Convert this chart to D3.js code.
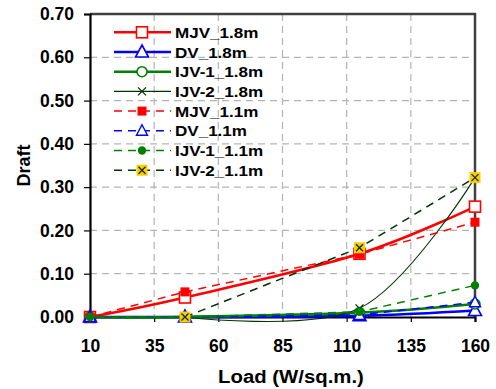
<!DOCTYPE html>
<html>
<head>
<meta charset="utf-8">
<script src="https://cdn.jsdelivr.net/npm/d3@7"></script>
<style>
  html, body { margin: 0; padding: 0; background: #fff; }
  svg { display: block; }
  text { font-family: "Liberation Sans", Arial, sans-serif; font-weight: bold; fill: #000; }
</style>
</head>
<body>
<svg id="chart" width="496" height="389"></svg>
<script>
// Load levels (W/sq.m.) and draft readings for each configuration
const loads = [10, 47, 115, 160];
const loadsIJV2 = [47, 115, 160];

const mjv18 = [0.000, 0.045, 0.146, 0.255];
const dv18 = [0.000, 0.000, 0.003, 0.015];
const ijv1_18 = [0.000, 0.000, 0.010, 0.030];
const ijv2_18 = [0.000, 0.020, 0.322];
const mjv11 = [0.000, 0.058, 0.145, 0.219];
const dv11 = [0.000, 0.000, 0.005, 0.034];
const ijv1_11 = [0.000, 0.000, 0.012, 0.073];
const ijv2_11 = [0.000, 0.160, 0.322];

const xTicks = [10, 35, 60, 85, 110, 135, 160];
const yTicks = [0, 0.1, 0.2, 0.3, 0.4, 0.5, 0.6, 0.7];

const seriesNames = ["MJV_1.8m", "DV_1.8m", "IJV-1_1.8m", "IJV-2_1.8m",
                     "MJV_1.1m", "DV_1.1m", "IJV-1_1.1m", "IJV-2_1.1m"];

const series = [
  { name: seriesNames[0], x: loads, y: mjv18, color: "#ff0000", width: 2.6, dash: null, smooth: true, marker: "openSquare" },
  { name: seriesNames[1], x: loads, y: dv18, color: "#0000ff", width: 2.6, dash: null, smooth: true, marker: "openTriangle" },
  { name: seriesNames[2], x: loads, y: ijv1_18, color: "#008000", width: 2.6, dash: null, smooth: true, marker: "openCircle" },
  { name: seriesNames[3], x: loadsIJV2, y: ijv2_18, color: "#003300", width: 1.1, dash: null, smooth: true, marker: "cross" },
  { name: seriesNames[4], x: loads, y: mjv11, color: "#ff0000", width: 1.5, dash: "8,6", smooth: false, marker: "fillSquare" },
  { name: seriesNames[5], x: loads, y: dv11, color: "#0000ff", width: 1.5, dash: "8,6", smooth: false, marker: "openTriangleSmall" },
  { name: seriesNames[6], x: loads, y: ijv1_11, color: "#008000", width: 1.5, dash: "8,6", smooth: false, marker: "fillCircle" },
  { name: seriesNames[7], x: loadsIJV2, y: ijv2_11, color: "#003300", width: 1.5, dash: "8,6", smooth: false, marker: "yellowCross" }
];

const svg = d3.select("#chart");
const plot = { left: 90, right: 475, top: 14, bottom: 317 };

const x = d3.scaleLinear().domain([10, 160]).range([plot.left, plot.right]);
const y = d3.scaleLinear().domain([0, 0.7]).range([plot.bottom, plot.top]);

// dashed grid
const grid = svg.append("g");
grid.selectAll("line.h").data(yTicks.filter(v => v > 0 && v < 0.7)).join("line")
  .attr("x1", plot.left).attr("x2", plot.right)
  .attr("y1", d => y(d)).attr("y2", d => y(d))
  .attr("stroke", "#b4b4b4").attr("stroke-width", 1.2).attr("stroke-dasharray", "7,5");
grid.selectAll("line.v").data(xTicks.filter(v => v > 10 && v < 160)).join("line")
  .attr("x1", d => x(d)).attr("x2", d => x(d))
  .attr("y1", plot.top).attr("y2", plot.bottom)
  .attr("stroke", "#b4b4b4").attr("stroke-width", 1.2).attr("stroke-dasharray", "7,5");

// top and right frame
svg.append("path")
  .attr("d", `M${plot.left},${plot.top}H${plot.right}V${plot.bottom}`)
  .attr("fill", "none").attr("stroke", "#404040").attr("stroke-width", 2.5);

// axes
const xAxis = svg.append("g").attr("transform", `translate(0,${plot.bottom})`)
  .call(d3.axisBottom(x).tickValues(xTicks).tickSize(5).tickPadding(18).tickFormat(d3.format("d")));
const yAxis = svg.append("g").attr("transform", `translate(${plot.left},0)`)
  .call(d3.axisLeft(y).tickValues(yTicks).tickSize(6).tickPadding(10).tickFormat(d3.format(".2f")));
[xAxis, yAxis].forEach(g => {
  g.select(".domain").attr("stroke", "#000").attr("stroke-width", 2.2);
  g.selectAll(".tick line").attr("stroke", "#000").attr("stroke-width", 1.2);
  g.selectAll(".tick text").attr("font-size", 17.5).attr("fill", "#000")
    .attr("font-family", "Liberation Sans, Arial, sans-serif").attr("font-weight", "bold");
});

// axis titles
svg.append("text").attr("x", 291).attr("y", 383).attr("text-anchor", "middle")
  .attr("font-size", 18.5)
  .attr("transform", "translate(291,0) scale(1.1,1) translate(-291,0)")
  .text("Load (W/sq.m.)");
svg.append("text").attr("transform", `translate(30,${(plot.top + plot.bottom) / 2}) rotate(-90)`)
  .attr("text-anchor", "middle").attr("font-size", 18).text("Draft");

// marker drawing
function drawMarker(g, type, color, cx, cy) {
  switch (type) {
    case "openSquare":
      g.append("rect").attr("x", cx - 5.5).attr("y", cy - 5.5).attr("width", 11).attr("height", 11)
        .attr("fill", "#fff").attr("stroke", color).attr("stroke-width", 1.6); break;
    case "openTriangle":
      g.append("path").attr("d", `M${cx},${cy - 7}L${cx + 6.5},${cy + 5}L${cx - 6.5},${cy + 5}Z`)
        .attr("fill", "#fff").attr("stroke", color).attr("stroke-width", 1.6); break;
    case "openTriangleSmall":
      g.append("path").attr("d", `M${cx},${cy - 6}L${cx + 5.5},${cy + 4.5}L${cx - 5.5},${cy + 4.5}Z`)
        .attr("fill", "#fff").attr("stroke", color).attr("stroke-width", 1.4); break;
    case "openCircle":
      g.append("circle").attr("cx", cx).attr("cy", cy).attr("r", 5)
        .attr("fill", "#fff").attr("stroke", color).attr("stroke-width", 1.6); break;
    case "cross":
      g.append("path").attr("d", `M${cx - 4},${cy - 4}L${cx + 4},${cy + 4}M${cx + 4},${cy - 4}L${cx - 4},${cy + 4}`)
        .attr("stroke", color).attr("stroke-width", 1.3); break;
    case "fillSquare":
      g.append("rect").attr("x", cx - 4.5).attr("y", cy - 4.5).attr("width", 9).attr("height", 9)
        .attr("fill", color); break;
    case "fillCircle":
      g.append("circle").attr("cx", cx).attr("cy", cy).attr("r", 4.2).attr("fill", color); break;
    case "yellowCross":
      g.append("rect").attr("x", cx - 5.5).attr("y", cy - 5.5).attr("width", 11).attr("height", 11)
        .attr("fill", "#ffcc00");
      g.append("path").attr("d", `M${cx - 3.5},${cy - 3.5}L${cx + 3.5},${cy + 3.5}M${cx + 3.5},${cy - 3.5}L${cx - 3.5},${cy + 3.5}`)
        .attr("stroke", color).attr("stroke-width", 1.3); break;
  }
}

// series lines and markers
const marks = svg.append("g");
series.forEach(s => {
  const pts = s.x.map((xv, i) => [xv, s.y[i]]);
  const line = d3.line().x(d => x(d[0])).y(d => y(d[1]))
    .curve(s.smooth ? d3.curveCatmullRom.alpha(0) : d3.curveLinear);
  marks.append("path").datum(pts).attr("d", line)
    .attr("fill", "none").attr("stroke", s.color).attr("stroke-width", s.width)
    .attr("stroke-dasharray", s.dash);
  const mg = marks.append("g");
  pts.forEach(p => drawMarker(mg, s.marker, s.color, x(p[0]), y(p[1])));
});

// legend
const legend = svg.append("g");
series.forEach((s, i) => {
  const ly = 32.3 + i * 19.7;
  legend.append("line").attr("x1", 114).attr("x2", 171).attr("y1", ly).attr("y2", ly)
    .attr("stroke", s.color).attr("stroke-width", s.width).attr("stroke-dasharray", s.dash);
  drawMarker(legend, s.marker, s.color, 142, ly);
  legend.append("text").attr("x", 175).attr("y", ly + 5.7)
    .attr("font-size", 15.5).attr("transform", `translate(175,0) scale(1.1,1) translate(-175,0)`)
    .text(s.name);
});
</script>
</body>
</html>
